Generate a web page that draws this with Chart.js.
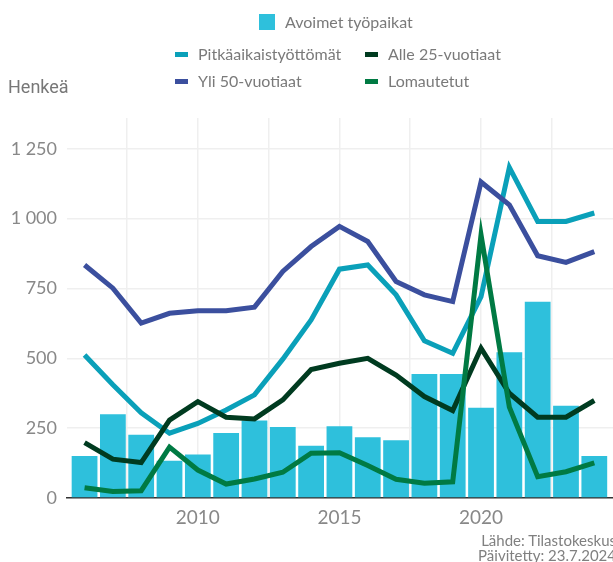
<!DOCTYPE html>
<html>
<head>
<meta charset="utf-8">
<script src="https://cdn.jsdelivr.net/npm/chart.js@4"></script>
<style>
  html, body { margin: 0; padding: 0; background: #fff; }
  #wrap { position: relative; width: 613px; height: 562px; overflow: hidden; font-family: Lato, "Open Sans", sans-serif; color: #777; }
  #c { position: absolute; left: 0; top: 0; }
  .lg { position: absolute; font-size: 16px; color: #7a7a7a; white-space: nowrap; line-height: 20px; }
  .sw { position: absolute; }
  #ytitle { position: absolute; left: 8px; top: 76px; font-size: 18px; color: #777; font-family: Roboto, Lato, sans-serif; }
  #src { position: absolute; right: -3px; top: 533px; font-size: 15px; line-height: 15px; color: #808080; text-align: right; }
</style>
</head>
<body>
<div id="wrap">
  <canvas id="c" width="613" height="562"></canvas>
  <div id="legend"></div>
  <div id="ytitle">Henkeä</div>
  <div id="src">Lähde: Tilastokeskus<br>Päivitetty: 23.7.2024</div>
</div>
<script>
const years = [2006,2007,2008,2009,2010,2011,2012,2013,2014,2015,2016,2017,2018,2019,2020,2021,2022,2023,2024];
const avoimet = [150,300,226,133,156,233,277,254,187,257,217,207,444,444,323,522,702,330,150];
const pitkaaikais = [512,405,305,232,267,315,369,497,637,819,834,727,563,518,721,1183,990,990,1020];
const yli50 = [834,751,626,661,670,670,683,811,900,972,918,775,727,703,1131,1049,867,843,882];
const alle25 = [198,139,127,279,345,289,283,351,460,482,500,440,363,313,536,375,289,289,349];
const lomautetut = [37,23,26,182,100,50,68,92,160,162,116,67,53,58,942,325,76,94,126];
const yTicks = [0,250,500,750,1000,1250];
const xTicks = [2007.5,2010,2012.5,2015,2017.5,2020,2022.5];

const colors = {
  avoimet: '#2ec0dc',
  pitka: '#0aa0b9',
  yli50: '#3b4f9e',
  alle25: '#003b20',
  lomautetut: '#007a43'
};

const pts = arr => years.map((y, i) => ({ x: y, y: arr[i] }));

// HTML legend
const legendItems = [
  { text: 'Avoimet työpaikat', color: colors.avoimet, box: true, x: 259, y: 12 },
  { text: 'Pitkäaikaistyöttömät', color: colors.pitka, x: 175, y: 44 },
  { text: 'Alle 25-vuotiaat', color: colors.alle25, x: 365, y: 44 },
  { text: 'Yli 50-vuotiaat', color: colors.yli50, x: 175, y: 71 },
  { text: 'Lomautetut', color: colors.lomautetut, x: 365, y: 71 }
];
const lg = document.getElementById('legend');
legendItems.forEach(it => {
  const sw = document.createElement('div');
  sw.className = 'sw';
  sw.style.background = it.color;
  if (it.box) {
    sw.style.left = it.x + 'px'; sw.style.top = (it.y + 2) + 'px';
    sw.style.width = '16px'; sw.style.height = '16px';
  } else {
    sw.style.left = it.x + 'px'; sw.style.top = (it.y + 8) + 'px';
    sw.style.width = '13px'; sw.style.height = '5px';
  }
  lg.appendChild(sw);
  const t = document.createElement('div');
  t.className = 'lg';
  t.textContent = it.text;
  t.style.left = (it.x + (it.box ? 26 : 23)) + 'px';
  t.style.top = it.y + 'px';
  lg.appendChild(t);
});

const lineDs = (label, data, color, order) => ({
  type: 'line', label, data: pts(data), borderColor: color, backgroundColor: color,
  borderWidth: 5, pointRadius: 0, tension: 0, fill: false, order
});

new Chart(document.getElementById('c'), {
  type: 'bar',
  data: {
    datasets: [
      lineDs('Lomautetut', lomautetut, colors.lomautetut, 1),
      lineDs('Alle 25-vuotiaat', alle25, colors.alle25, 2),
      lineDs('Yli 50-vuotiaat', yli50, colors.yli50, 3),
      lineDs('Pitkäaikaistyöttömät', pitkaaikais, colors.pitka, 4),
      { type: 'bar', label: 'Avoimet työpaikat', data: pts(avoimet), backgroundColor: colors.avoimet,
        barPercentage: 0.91, categoryPercentage: 1, order: 5 }
    ]
  },
  options: {
    responsive: false,
    animation: false,
    layout: { padding: { top: 118, bottom: 19, left: 0, right: 0 } },
    plugins: { legend: { display: false }, tooltip: { enabled: false } },
    scales: {
      x: {
        type: 'linear',
        offset: false,
        min: 2005.38,
        max: 2024.66,
        afterBuildTicks: s => { s.ticks = xTicks.map(v => ({ value: v })); },
        afterFit: s => { s.height = 45; },
        grid: { color: '#efefef', lineWidth: 1.5, drawTicks: false, offset: false },
        border: { display: true, color: '#333', width: 1.5 },
        ticks: {
          autoSkip: false, maxRotation: 0, padding: 8,
          color: '#888', font: { family: 'Lato', size: 19 },
          callback: v => Number.isInteger(v) ? String(v) : ''
        }
      },
      y: {
        min: 0,
        max: 1360,
        afterBuildTicks: s => { s.ticks = yTicks.map(v => ({ value: v })); },
        afterFit: s => { s.width = 67; },
        grid: { color: '#efefef', lineWidth: 1.5, drawTicks: false },
        border: { display: false },
        ticks: {
          padding: 10, color: '#888', font: { family: 'Lato', size: 18 },
          callback: v => String(v).replace(/\B(?=(\d{3})+(?!\d))/g, ' ')
        }
      }
    }
  }
});
</script>
</body>
</html>
